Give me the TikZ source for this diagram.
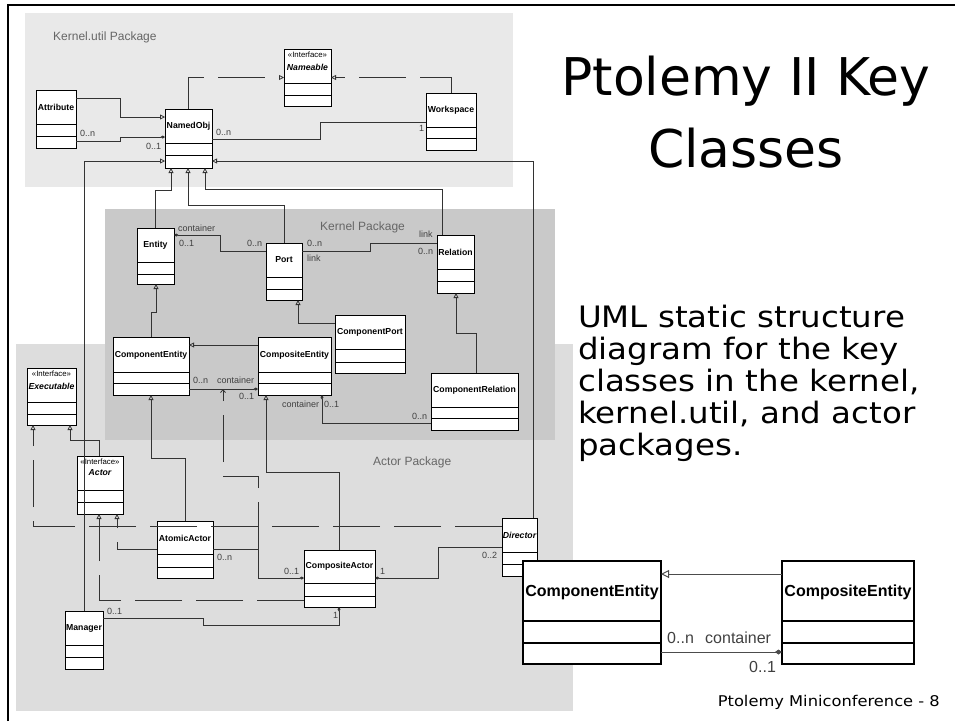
\documentclass[tikz,border=0pt]{standalone}
\usepackage{fontspec}
\setmainfont{Liberation Sans}
\newfontfamily\comic[FakeStretch=1.1]{DejaVu Sans}
\newfontfamily\comictitle{DejaVu Sans}
\usetikzlibrary{arrows.meta}
\definecolor{utilbg}{HTML}{E9E9E9}
\definecolor{kernbg}{HTML}{C9C9C9}
\definecolor{actbg}{HTML}{DDDDDD}
\definecolor{lnc}{HTML}{333333}
\definecolor{lbl}{HTML}{404040}
\definecolor{pkgtxt}{HTML}{666666}
\tikzset{
  cls/.style={draw=black, fill=white, line width=0.8pt, inner sep=0pt, outer sep=0pt},
  clsdiv/.style={draw=black, line width=0.8pt},
  bigcls/.style={draw=black, fill=white, line width=1.8pt, inner sep=0pt, outer sep=0pt},
  bigclsdiv/.style={draw=black, line width=1.8pt},
  clsname/.style={font=\fontsize{8.7}{9}\selectfont\bfseries, inner sep=0pt},
  ifname/.style={font=\fontsize{8.7}{9}\selectfont\bfseries\itshape, inner sep=0pt},
  stereo/.style={font=\fontsize{7.8}{9}\selectfont, inner sep=0pt},
  bigname/.style={font=\fontsize{16}{18}\selectfont\bfseries, inner sep=0pt},
  conn/.style={draw=lnc, line width=0.8pt},
  gen/.style={conn, -{Triangle[open, length=5pt, width=5pt]}},
  agg/.style={conn, -{Diamond[length=4.5pt, width=3pt]}},
  realdash/.style={conn, dash pattern=on 47pt off 14pt},
  real/.style={realdash, -{Triangle[open, length=5pt, width=5pt]}},
  dep/.style={realdash, -{Straight Barb[length=3pt, width=5pt]}},
  bigconn/.style={draw=black!70, line width=1pt},
  biggen/.style={bigconn, -{Triangle[open, length=8pt, width=8pt]}},
  bigagg/.style={bigconn, -{Diamond[length=7pt, width=5pt]}},
  mult/.style={font=\fontsize{9}{10}\selectfont, text=lbl, inner sep=0pt, anchor=west},
  bigmult/.style={font=\fontsize{16}{18}\selectfont, text=lbl, inner sep=0pt, anchor=west},
  pkg/.style={font=\fontsize{12}{14}\selectfont, text=pkgtxt, inner sep=0pt, anchor=west},
  ttl/.style={font=\comictitle\fontsize{52}{56}\selectfont, inner sep=0pt, anchor=base},
  desc/.style={font=\comic\fontsize{29.5}{32}\selectfont, inner sep=0pt, anchor=base west},
  foot/.style={font=\comic\fontsize{14.8}{16}\selectfont, inner sep=0pt, anchor=base east},
}
% [style] name x y w h div1 div2
\newcommand\umlclass[8][cls]{%
  \node[#1, minimum width=#5pt, minimum height=#6pt, anchor=north west] (#2) at (#3,#4) {};
  \draw[#1div] (#3,#7) -- ++(#5,0) (#3,#8) -- ++(#5,0);
}
\begin{document}
\begin{tikzpicture}[x=1pt, y=-1pt]
\useasboundingbox (0,0) rectangle (955,721);
% packages
\fill[utilbg] (25,13) rectangle (513,187);
\fill[actbg] (16,344) rectangle (573,711);
\fill[kernbg] (105,209) rectangle (555,440);
\node[pkg] (pk1) at (53,37) {Kernel.util Package};
\node[pkg] (pk2) at (320,227) {Kernel Package};
\node[pkg] (pk3) at (373,462) {Actor Package};
% frame
\draw[line width=2pt] (8,721) -- (8,5) -- (955,5);

% classes
\umlclass{attribute}{36}{90}{40}{58}{124}{136}
\umlclass{namedobj}{165}{109}{47}{59}{143}{155}
\umlclass{nameable}{284}{49}{47}{57}{83}{95}
\umlclass{workspace}{426}{93}{50}{57}{127}{138}
\umlclass{entity}{137}{228}{37}{56}{262}{274}
\umlclass{port}{266}{243}{36}{57}{277}{289}
\umlclass{relation}{437}{235}{37}{58}{269}{281}
\umlclass{compent}{113}{337}{76}{58}{372}{383}
\umlclass{compositeent}{258}{337}{73}{58}{372}{383}
\umlclass{compport}{335}{315}{70}{58}{349}{362}
\umlclass{comprel}{431}{373}{87}{57}{407}{418}
\umlclass{executable}{27}{368}{49}{57}{402}{414}
\umlclass{actor}{77}{456}{46}{58}{490}{502}
\umlclass{atomic}{157}{521}{56}{57}{554}{567}
\umlclass{compactor}{304}{550}{71}{57}{583}{596}
\umlclass{director}{502}{518}{35}{58}{552}{564}
\umlclass{manager}{65}{611}{38}{58}{645}{657}

\node[clsname] (n1) at (56,107) {Attribute};
\node[clsname] (n2) at (188.5,126) {NamedObj};
\node[stereo] (n3a) at (307.5,55) {«Interface»};
\node[ifname] (n3b) at (307.5,67) {Nameable};
\node[clsname] (n4) at (451,110) {Workspace};
\node[clsname] (n5) at (155.5,245) {Entity};
\node[clsname] (n6) at (284,260) {Port};
\node[clsname] (n7) at (455.5,252) {Relation};
\node[clsname] (n8) at (151,355) {ComponentEntity};
\node[clsname] (n9) at (294.5,355) {CompositeEntity};
\node[clsname] (n10) at (370,332) {ComponentPort};
\node[clsname] (n11) at (474.5,390) {ComponentRelation};
\node[stereo] (n12a) at (51.5,374) {«Interface»};
\node[ifname] (n12b) at (51.5,386) {Executable};
\node[stereo] (n13a) at (100,462) {«Interface»};
\node[ifname] (n13b) at (100,473) {Actor};
\node[clsname] (n14) at (185,538) {AtomicActor};
\node[clsname] (n15) at (339.5,566) {CompositeActor};
\node[ifname] (n16) at (519.5,535) {Director};
\node[clsname] (n17) at (84,628) {Manager};

% connectors: kernel.util
\draw[real] (namedobj.north) |- (nameable.west);
\draw[real] (workspace.north) |- (nameable.east);
\draw[gen] (attribute.east |- 0,98) -- (120,98) -- (120,117) -- (namedobj.west |- 0,117);
\draw[agg] (attribute.east |- 0,141) -- (120,141) -- (120,137) -- (namedobj.west |- 0,137);
\draw[conn] (namedobj.east |- 0,139) -- (320,139) -- (320,122) -- (workspace.west |- 0,122);
\draw[gen] (manager.north) |- (namedobj.west |- 0,161);
\draw[gen] (director.north -| 533,0) |- (namedobj.east |- 0,161);
\draw[gen] (entity.north) |- (171,190) -- (namedobj.south -| 171,0);
\draw[gen] (port.north) |- (188,205) -- (namedobj.south -| 188,0);
\draw[gen] (relation.north -| 442,0) |- (205,189) -- (namedobj.south -| 205,0);
% kernel
\draw[agg] (port.west |- 0,251) -- (220,251) -- (220,235) -- (entity.east |- 0,235);
\draw[conn] (port.east |- 0,251) -- (370,251) -- (370,243) -- (relation.west |- 0,243);
\draw[gen] (compent.north) |- (156,312) -- (entity.south -| 156,0);
\draw[gen] (compport.west |- 0,323) -| (port.south -| 298,0);
\draw[gen] (comprel.north -| 476,0) |- (456,333) -- (relation.south -| 456,0);
\draw[gen] (compositeent.west |- 0,345) -- (compent.east |- 0,345);
\draw[agg] (compent.east |- 0,389) -- (compositeent.west |- 0,389);
\coordinate (contmid) at (223,389);
\draw[agg] (comprel.west |- 0,423) -| (compositeent.south -| 322,0);
% actor
\draw[gen] (actor.north -| 99,0) |- (70,440) -- (executable.south -| 70,0);
\draw[real] (director.west |- 0,526) -| (executable.south -| 33,0);
\draw[real] (atomic.west |- 0,549) -| (actor.south -| 117,0);
\draw[real] (compactor.west |- 0,600) -| (actor.south -| 99,0);
\draw[gen] (atomic.north) |- (151,458) -- (compent.south);
\draw[gen] (compactor.north -| 339,0) |- (266,472) -- (compositeent.south -| 266,0);
\coordinate (assocpt) at (258,549);
\draw[agg] (atomic.east |- 0,549) -- (assocpt) |- (compactor.west |- 0,578);
\draw[dep] (assocpt) |- (223,476) -- (contmid);
\draw[agg] (director.west |- 0,547) -- (438,547) |- (compactor.east |- 0,578);
\draw[agg] (manager.east |- 0,618) -- (203,618) -- (203,625) -| (compactor.south -| 339,0);

% multiplicities
\node[mult] (m1) at (80,133) {0..n};
\node[mult] (m2) at (146,146) {0..1};
\node[mult] (m3) at (216,132) {0..n};
\node[mult] (m4) at (419,128) {1};
\node[mult] (m5) at (178,228) {container};
\node[mult] (m6) at (179,243) {0..1};
\node[mult] (m7) at (247,243) {0..n};
\node[mult] (m8) at (307,243) {0..n};
\node[mult] (m9) at (307,258) {link};
\node[mult] (m10) at (419,234) {link};
\node[mult] (m11) at (418,251) {0..n};
\node[mult] (m12) at (193,380) {0..n};
\node[mult] (m13) at (217,380) {container};
\node[mult] (m14) at (239,396) {0..1};
\node[mult] (m15) at (282,404) {container};
\node[mult] (m16) at (324,404) {0..1};
\node[mult] (m17) at (412,416) {0..n};
\node[mult] (m18) at (217,557) {0..n};
\node[mult] (m19) at (284,571) {0..1};
\node[mult] (m20) at (380,571) {1};
\node[mult] (m21) at (482,555) {0..2};
\node[mult] (m22) at (107,611) {0..1};
\node[mult] (m23) at (333,615) {1};

% enlarged detail
\umlclass[bigcls]{bigcomp}{523}{561}{138}{103}{621}{643}
\umlclass[bigcls]{bigcompos}{782}{561}{132}{103}{621}{643}
\node[bigname] (bn1) at (592,592) {ComponentEntity};
\node[bigname] (bn2) at (848,592) {CompositeEntity};
\draw[biggen] (bigcompos.west |- 0,574) -- (bigcomp.east |- 0,574);
\draw[bigagg] (bigcomp.east |- 0,652) -- (bigcompos.west |- 0,652);
\node[bigmult] (bm1) at (667,638) {0..n};
\node[bigmult] (bm2) at (705,638) {container};
\node[bigmult] (bm3) at (749,667) {0..1};

% texts
\node[ttl] (t1) at (746,95) {Ptolemy II Key};
\node[ttl] (t2) at (746,167) {Classes};
\node[desc] (d1) at (578,327) {UML static structure};
\node[desc] (d2) at (578,359) {diagram for the key};
\node[desc] (d3) at (578,391) {classes in the kernel,};
\node[desc] (d4) at (578,423) {kernel.util, and actor};
\node[desc] (d5) at (578,455) {packages.};
\node[foot] (f1) at (940,706) {Ptolemy Miniconference - 8};
\end{tikzpicture}
\end{document}
